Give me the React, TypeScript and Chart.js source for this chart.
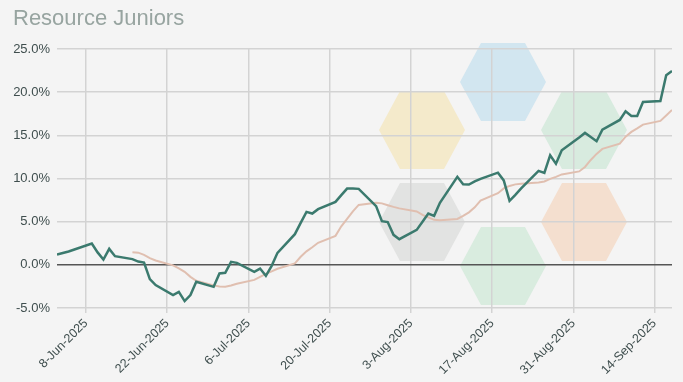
import React, { useEffect, useRef } from 'react';
import { Chart, registerables } from 'chart.js';

Chart.register(...registerables);

const TITLE = 'Resource Juniors';
const MONTHS = ['Jan', 'Feb', 'Mar', 'Apr', 'May', 'Jun', 'Jul', 'Aug', 'Sep', 'Oct', 'Nov', 'Dec'];

const dates = [
  '2025-06-03', '2025-06-04', '2025-06-05', '2025-06-06',
  '2025-06-09', '2025-06-10', '2025-06-11', '2025-06-12', '2025-06-13',
  '2025-06-16', '2025-06-17', '2025-06-18', '2025-06-19', '2025-06-20',
  '2025-06-23', '2025-06-24', '2025-06-25', '2025-06-26', '2025-06-27',
  '2025-06-30', '2025-07-01', '2025-07-02', '2025-07-03', '2025-07-04',
  '2025-07-07', '2025-07-08', '2025-07-09', '2025-07-10', '2025-07-11',
  '2025-07-14', '2025-07-15', '2025-07-16', '2025-07-17', '2025-07-18',
  '2025-07-21', '2025-07-22', '2025-07-23', '2025-07-24', '2025-07-25',
  '2025-07-28', '2025-07-29', '2025-07-30', '2025-07-31', '2025-08-01',
  '2025-08-04', '2025-08-05', '2025-08-06', '2025-08-07', '2025-08-08',
  '2025-08-11', '2025-08-12', '2025-08-13', '2025-08-14', '2025-08-15',
  '2025-08-18', '2025-08-19', '2025-08-20', '2025-08-21', '2025-08-22',
  '2025-08-25', '2025-08-26', '2025-08-27', '2025-08-28', '2025-08-29',
  '2025-09-01', '2025-09-02', '2025-09-03', '2025-09-04', '2025-09-05',
  '2025-09-08', '2025-09-09', '2025-09-10', '2025-09-11', '2025-09-12',
  '2025-09-15', '2025-09-16', '2025-09-17',
];

const juniors = [
  1.19, 1.37, 1.54, 1.77,
  2.47, 1.44, 0.61, 1.85, 1.0,
  0.66, 0.38, 0.27, -1.65, -2.35,
  -3.51, -3.13, -4.2, -3.5, -1.97,
  -2.55, -1.0, -0.93, 0.35, 0.23,
  -0.81, -0.43, -1.27, -0.12, 1.39,
  3.55, 4.86, 6.13, 5.94, 6.45,
  7.29, 8.07, 8.83, 8.83, 8.8,
  6.8, 5.06, 4.95, 3.47, 2.97,
  4.05, 4.98, 5.94, 5.67, 7.18,
  10.19, 9.32, 9.3, 9.66, 9.95,
  10.68, 9.78, 7.41, 8.1, 8.85,
  10.88, 10.65, 12.7, 11.72, 13.28,
  14.76, 15.28, 14.81, 14.32, 15.66,
  16.78, 17.79, 17.25, 17.25, 18.87,
  18.98, 21.96, 22.45,
];

const average = [
  null, null, null, null,
  null, null, null, null, null,
  1.47, 1.41, 1.16, 0.78, 0.5,
  -0.06, -0.4, -0.81, -1.39, -1.85,
  -2.38, -2.5, -2.55, -2.4, -2.2,
  -1.74, -1.39, -1.04, -0.75, -0.46,
  0.17, 0.93, 1.56, 2.03, 2.55,
  3.36, 4.46, 5.32, 6.19, 6.94,
  7.18, 7.12, 6.91, 6.71, 6.54,
  6.19, 5.79, 5.5, 5.21, 5.17,
  5.32, 5.67, 6.08, 6.66, 7.45,
  8.3, 8.85, 9.14, 9.32, 9.38,
  9.55, 9.66, 9.95, 10.19, 10.47,
  10.82, 11.34, 12.15, 12.85, 13.43,
  14.04, 14.84, 15.4, 15.8, 16.24,
  16.67, 17.3, 17.94,
];

const tickDates = ['2025-06-08', '2025-06-22', '2025-07-06', '2025-07-20', '2025-08-03', '2025-08-17', '2025-08-31', '2025-09-14'];
const yTicks = [-5, 0, 5, 10, 15, 20, 25];

const START = Date.UTC(2025, 5, 3);
const dayOf = (s: string) => {
  const [y, m, d] = s.split('-').map(Number);
  return Math.round((Date.UTC(y, m - 1, d) - START) / 86400000);
};
const fmtDay = (v: number) => {
  const dt = new Date(START + v * 86400000);
  return `${dt.getUTCDate()}-${MONTHS[dt.getUTCMonth()]}-${dt.getUTCFullYear()}`;
};

// decorative hexagon watermark behind the plot
const hexes = [
  { cx: 422, cy: 130, color: '#f4eacb' },
  { cx: 503, cy: 82, color: '#d2e6f0' },
  { cx: 584, cy: 130, color: '#d8ebdf' },
  { cx: 422, cy: 222, color: '#e2e3e2' },
  { cx: 503, cy: 266, color: '#d9ecdf' },
  { cx: 584, cy: 222, color: '#f4dfcf' },
];

const backgroundPlugin = {
  id: 'pageBackground',
  beforeDraw(chart: any) {
    const ctx = chart.ctx;
    ctx.save();
    ctx.fillStyle = '#f4f4f4';
    ctx.fillRect(0, 0, chart.width, chart.height);
    const hw = 43, hh = 39, te = 22;
    hexes.forEach((h) => {
      ctx.beginPath();
      ctx.moveTo(h.cx - hw, h.cy);
      ctx.lineTo(h.cx - te, h.cy - hh);
      ctx.lineTo(h.cx + te, h.cy - hh);
      ctx.lineTo(h.cx + hw, h.cy);
      ctx.lineTo(h.cx + te, h.cy + hh);
      ctx.lineTo(h.cx - te, h.cy + hh);
      ctx.closePath();
      ctx.fillStyle = h.color;
      ctx.fill();
    });
    ctx.fillStyle = '#97a4a0';
    ctx.font = '22px "Liberation Sans", Arial, sans-serif';
    ctx.textBaseline = 'alphabetic';
    ctx.textAlign = 'left';
    ctx.fillText(TITLE, 13, 25);
    ctx.restore();
  },
};

const TICK_COLOR = '#3f4e4e';
const FAMILY = '"Liberation Sans", Arial, sans-serif';

export default function App() {
  const ref = useRef<HTMLCanvasElement | null>(null);

  useEffect(() => {
    if (!ref.current) return;
    const xs = dates.map(dayOf);
    const chart = new Chart(ref.current, {
      type: 'line',
      data: {
        datasets: [
          {
            label: 'Resource Juniors',
            data: xs.map((x, i) => ({ x, y: juniors[i] })),
            borderColor: '#3b7a6e',
            borderWidth: 2.5,
            pointRadius: 0,
            tension: 0,
          },
          {
            label: 'Average',
            data: xs.map((x, i) => ({ x, y: average[i] })),
            borderColor: '#e0bfb0',
            borderWidth: 2,
            pointRadius: 0,
            tension: 0,
            spanGaps: false,
          },
        ],
      },
      options: {
        responsive: false,
        animation: false,
        layout: { padding: { top: 49, right: 11, left: 0, bottom: 0 } },
        plugins: {
          legend: { display: false },
          tooltip: { enabled: false },
          title: { display: false },
        },
        scales: {
          x: {
            type: 'linear',
            min: xs[0],
            max: xs[xs.length - 1],
            afterBuildTicks: (s: any) => {
              s.ticks = tickDates.map((d) => ({ value: dayOf(d) }));
            },
            afterFit: (s: any) => {
              s.height = 74;
            },
            ticks: {
              callback: (v: any) => fmtDay(Number(v)),
              minRotation: 45,
              maxRotation: 45,
              autoSkip: false,
              color: TICK_COLOR,
              font: { family: FAMILY, size: 12.5 },
              padding: 3,
            },
            grid: { color: '#d3d3d3', lineWidth: 1.5, tickLength: 5 },
            border: { display: false },
          },
          y: {
            min: -5,
            max: 25,
            afterBuildTicks: (s: any) => {
              s.ticks = yTicks.map((v) => ({ value: v }));
            },
            afterFit: (s: any) => {
              s.width = 57;
            },
            ticks: {
              callback: (v: any) => Number(v).toFixed(1) + '%',
              color: TICK_COLOR,
              font: { family: FAMILY, size: 13 },
              padding: 7,
            },
            grid: {
              drawTicks: false,
              color: (c: any) => (c.tick && c.tick.value === 0 ? '#555555' : '#d3d3d3'),
              lineWidth: 1.5,
            },
            border: { display: false },
          },
        },
      },
      plugins: [backgroundPlugin],
    } as any);
    return () => chart.destroy();
  }, []);

  return (
    <div style={{ position: 'fixed', left: 0, top: 0, width: 683, height: 382, background: '#f4f4f4' }}>
      <canvas ref={ref} width={683} height={382} style={{ width: 683, height: 382, display: 'block' }} />
    </div>
  );
}
